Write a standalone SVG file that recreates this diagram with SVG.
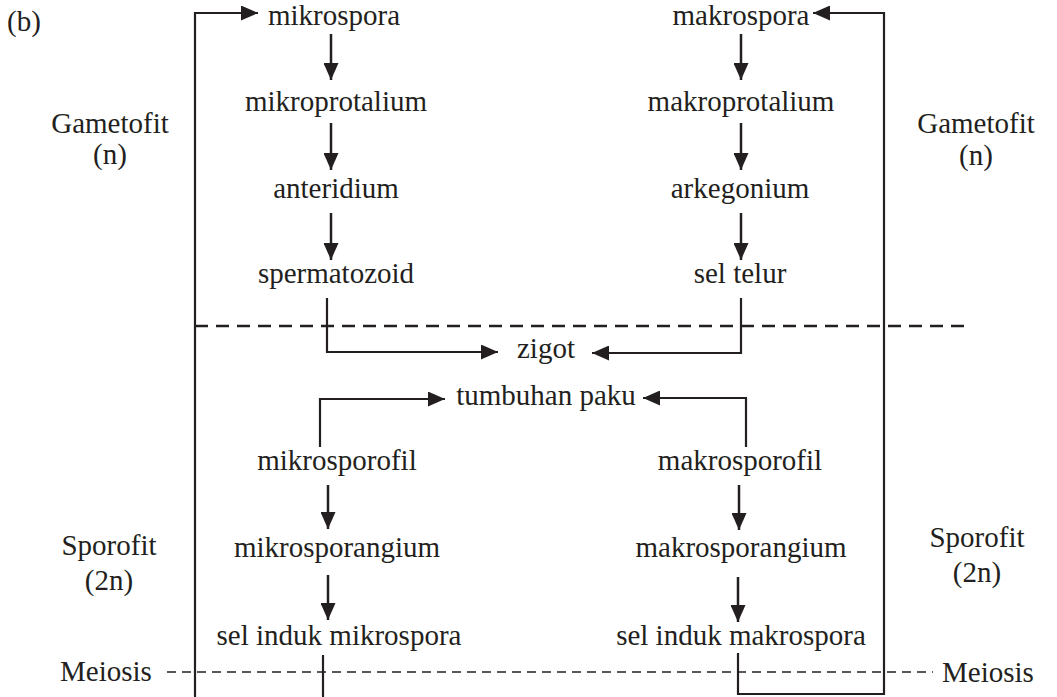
<svg xmlns="http://www.w3.org/2000/svg" width="1057" height="697" viewBox="0 0 1057 697">
<style>
text{font-family:'Liberation Serif','Tinos','DejaVu Serif',serif;font-size:29px;fill:#231f20}
.n text{text-anchor:middle}
.c{fill:none;stroke:#231f20;stroke-width:2.5}
.b{fill:none;stroke:#231f20;stroke-width:2.2}
.d1{fill:none;stroke:#231f20;stroke-width:2.4;stroke-dasharray:13 8}
.d2{fill:none;stroke:#231f20;stroke-width:1.6;stroke-dasharray:9 6}
</style>
<defs>
<marker id="ah" markerUnits="userSpaceOnUse" markerWidth="17" markerHeight="15" refX="17" refY="7.5" orient="auto">
<path d="M0,0 L17,7.5 L0,15 z" fill="#231f20"/>
</marker>
</defs>
<rect width="1057" height="697" fill="#fff"/>
<g id="labels">
<text x="7" y="31">(b)</text>
<text x="110" y="133" text-anchor="middle">Gametofit</text>
<text x="110" y="164" text-anchor="middle">(n)</text>
<text x="976" y="133" text-anchor="middle">Gametofit</text>
<text x="976" y="165" text-anchor="middle">(n)</text>
<text x="109" y="555" text-anchor="middle">Sporofit</text>
<text x="109" y="590" text-anchor="middle">(2n)</text>
<text x="977" y="547" text-anchor="middle">Sporofit</text>
<text x="977" y="582" text-anchor="middle">(2n)</text>
<text x="60" y="681">Meiosis</text>
<text x="942" y="682">Meiosis</text>
</g>
<g class="n">
<g id="mikrospora"><text x="334" y="25">mikrospora</text></g>
<g id="makrospora"><text x="741" y="25">makrospora</text></g>
<g id="mikroprotalium"><text x="336" y="111">mikroprotalium</text></g>
<g id="makroprotalium"><text x="741" y="111">makroprotalium</text></g>
<g id="anteridium"><text x="336" y="198">anteridium</text></g>
<g id="arkegonium"><text x="740" y="198">arkegonium</text></g>
<g id="spermatozoid"><text x="336" y="283">spermatozoid</text></g>
<g id="sel-telur"><text x="740" y="283">sel telur</text></g>
<g id="zigot"><text x="546" y="358">zigot</text></g>
<g id="tumbuhan-paku"><text x="546" y="405">tumbuhan paku</text></g>
<g id="mikrosporofil"><text x="337" y="470">mikrosporofil</text></g>
<g id="makrosporofil"><text x="740" y="470">makrosporofil</text></g>
<g id="mikrosporangium"><text x="337" y="557">mikrosporangium</text></g>
<g id="makrosporangium"><text x="741" y="557">makrosporangium</text></g>
<g id="sel-induk-mikrospora"><text x="339" y="645">sel induk mikrospora</text></g>
<g id="sel-induk-makrospora"><text x="741" y="645">sel induk makrospora</text></g>
</g>
<g id="connectors">
<line class="d1" x1="195" y1="326" x2="967" y2="326"/>
<line class="d2" x1="167" y1="672" x2="933" y2="672"/>
<polyline class="b" points="195,697 195,13 258,13" marker-end="url(#ah)"/>
<polyline class="b" points="738,653 738,694 884,694 884,13 813,13" marker-end="url(#ah)"/>
<line class="c" x1="331" y1="34" x2="331" y2="80" marker-end="url(#ah)"/>
<line class="c" x1="331" y1="123" x2="331" y2="170" marker-end="url(#ah)"/>
<line class="c" x1="331" y1="213" x2="331" y2="260" marker-end="url(#ah)"/>
<line class="c" x1="741" y1="34" x2="741" y2="80" marker-end="url(#ah)"/>
<line class="c" x1="741" y1="123" x2="741" y2="170" marker-end="url(#ah)"/>
<line class="c" x1="741" y1="213" x2="741" y2="260" marker-end="url(#ah)"/>
<polyline class="b" points="327,298 327,352 498,352" marker-end="url(#ah)"/>
<polyline class="b" points="741,298 741,353 592,353" marker-end="url(#ah)"/>
<polyline class="b" points="320,447 320,399 445,399" marker-end="url(#ah)"/>
<polyline class="b" points="746,447 746,398 643,398" marker-end="url(#ah)"/>
<line class="c" x1="328" y1="485" x2="328" y2="529" marker-end="url(#ah)"/>
<line class="c" x1="328" y1="575" x2="328" y2="620" marker-end="url(#ah)"/>
<line class="c" x1="739" y1="485" x2="739" y2="530" marker-end="url(#ah)"/>
<line class="c" x1="738" y1="577" x2="738" y2="622" marker-end="url(#ah)"/>
<line class="b" x1="323" y1="655" x2="323" y2="697"/>
</g>
</svg>
